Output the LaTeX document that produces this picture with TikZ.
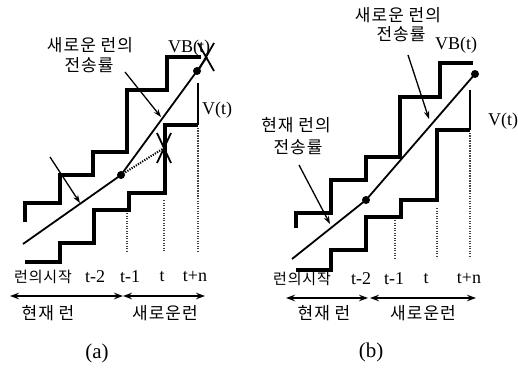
\documentclass[tikz,border=0pt]{standalone}
\usepackage{fontspec}
\setmainfont{Liberation Serif}
\newfontfamily\kr{Noto Sans CJK KR}[LetterSpace=6]
\usetikzlibrary{arrows.meta}
\begin{document}
\begin{tikzpicture}[x=1pt,y=-1pt,
  stair/.style={line width=3.2pt, line join=miter},
  rate/.style={line width=1.8pt},
  thinline/.style={line width=1.3pt},
  dotline/.style={line width=1.4pt, dash pattern=on 1.2pt off 1.3pt, black!75},
  ptr/.style={line width=1.3pt, -{Stealth[length=8pt,width=5.5pt]}},
  span/.style={line width=1.5pt, {Stealth[length=9pt,width=6.5pt]}-{Stealth[length=9pt,width=6.5pt]}},
  kt/.style={font=\kr\fontsize{17}{19}\selectfont, inner sep=0pt},
  ks/.style={font=\kr\fontsize{15}{17}\selectfont, inner sep=0pt},
  lt/.style={font=\fontsize{18}{20}\selectfont, inner sep=0pt},
  captext/.style={font=\fontsize{21}{23}\selectfont, inner sep=0pt},
  dotm/.style={circle, fill, inner sep=0pt, minimum size=8pt},
]
\useasboundingbox[fill=white] (0,0) rectangle (518,371);

% ================= panel (a) =================
\draw[stair] (25,222) -- (25,203) -- (60,203) -- (60,175) -- (93,175) -- (93,152)
  -- (127,152) -- (127,90) -- (167,90) -- (167,57) -- (201,57);
\draw[stair] (25,262) -- (60,262) -- (60,243) -- (94,243) -- (94,210) -- (129,210)
  -- (129,193) -- (165,193) -- (165,125) -- (198,125);
\draw[thinline] (198,83) -- (198,125);
% dotted time marks
\draw[dotline] (127,213) -- (127,252);
\draw[dotline] (164,200) -- (164,252);
\draw[dotline] (198,128) -- (198,252);
% rate line
\coordinate (a0) at (23,244);
\node[dotm] (ad1) at (121,175) {};
\node[dotm] (ad2) at (197,71) {};
\coordinate (aend) at (207,57);
\draw[rate] (a0) -- (ad1.center) -- (ad2.center) -- (aend);
\coordinate (ax2) at (164,148);
\draw[dotline, line width=2pt, black] (ad1.center) -- (ax2);
% crosses
\coordinate (ax1) at (206,57);
\draw[rate] (ax1) ++(-8,-14) -- ++(16,28);
\draw[rate] (ax1) ++(8,-14) -- ++(-16,28);
\draw[rate] (ax2) ++(-7,-15) -- ++(14,30);
\draw[rate] (ax2) ++(7,-15) -- ++(-14,30);
% labels
\node[kt] (an1) at (90,45) {새로운 런의};
\node[kt] (an2) at (89,65) {전송률};
\node[lt] (avb) at (189,48) {VB(t)};
\node[lt] (av) at (217,110) {V(t)};
\coordinate (aa1s) at (125,72);
\coordinate (aa1e) at (161,117);
\draw[ptr] (aa1s) -- (aa1e);
\coordinate (aa2s) at (50,157);
\coordinate (aa2e) at (80,203);
\draw[ptr] (aa2s) -- (aa2e);
% time axis
\node[ks] (at0) at (43,277) {런의시작};
\node[lt] (at1) at (95,277) {t-2};
\node[lt] (at2) at (130,277) {t-1};
\node[lt] (at3) at (162,277) {t};
\node[lt] (at4) at (195,277) {t+n};
\coordinate (al) at (10,296);
\coordinate (am) at (123,296);
\coordinate (ar) at (205,296);
\draw[span] (al) -- (am);
\draw[span] (am) -- (ar);
\node[kt] (ac) at (48,313) {현재 런};
\node[kt] (an) at (165,313) {새로운런};
\node[captext] (acap) at (97,353) {(a)};

% ================= panel (b) =================
\draw[stair] (296,228) -- (296,213) -- (331,213) -- (331,180) -- (366,180) -- (366,157)
  -- (400,157) -- (400,97) -- (440,97) -- (440,63) -- (473,63);
\draw[stair] (296,270) -- (331,270) -- (331,250) -- (366,250) -- (366,217) -- (401,217)
  -- (401,200) -- (437,200) -- (437,130) -- (470,130);
\draw[thinline] (470,90) -- (470,130);
\draw[dotline] (395,220) -- (395,258);
\draw[dotline] (437,208) -- (437,258);
\draw[dotline] (470,133) -- (470,258);
\coordinate (b0) at (292,259);
\node[dotm] (bd1) at (366,200) {};
\node[dotm] (bd2) at (475,74) {};
\draw[rate] (b0) -- (bd1.center) -- (bd2.center);
\node[kt] (bn1) at (398,15) {새로운 런의};
\node[kt] (bn2) at (401,34) {전송률};
\node[kt] (bc1) at (296,125) {현재 런의};
\node[kt] (bc2) at (298,147) {전송률};
\node[lt] (bvb) at (456,45) {VB(t)};
\node[lt] (bv) at (503,121) {V(t)};
\coordinate (ba1s) at (408,55);
\coordinate (ba1e) at (429,119);
\draw[ptr] (ba1s) -- (ba1e);
\coordinate (ba2s) at (299,165);
\coordinate (ba2e) at (330,224);
\draw[ptr] (ba2s) -- (ba2e);
\node[ks] (bt0) at (302,279) {런의시작};
\node[lt] (bt1) at (361,279) {t-2};
\node[lt] (bt2) at (394,279) {t-1};
\node[lt] (bt3) at (426,279) {t};
\node[lt] (bt4) at (469,279) {t+n};
\coordinate (bl) at (286,298);
\coordinate (bm1) at (368,298);
\coordinate (bm2) at (370,298);
\coordinate (br) at (476,298);
\draw[span] (bl) -- (bm1);
\draw[span] (bm2) -- (br);
\node[kt] (bc) at (324,313) {현재 런};
\node[kt] (bn) at (423,313) {새로운런};
\node[captext] (bcap) at (371,352) {(b)};
\end{tikzpicture}
\end{document}
